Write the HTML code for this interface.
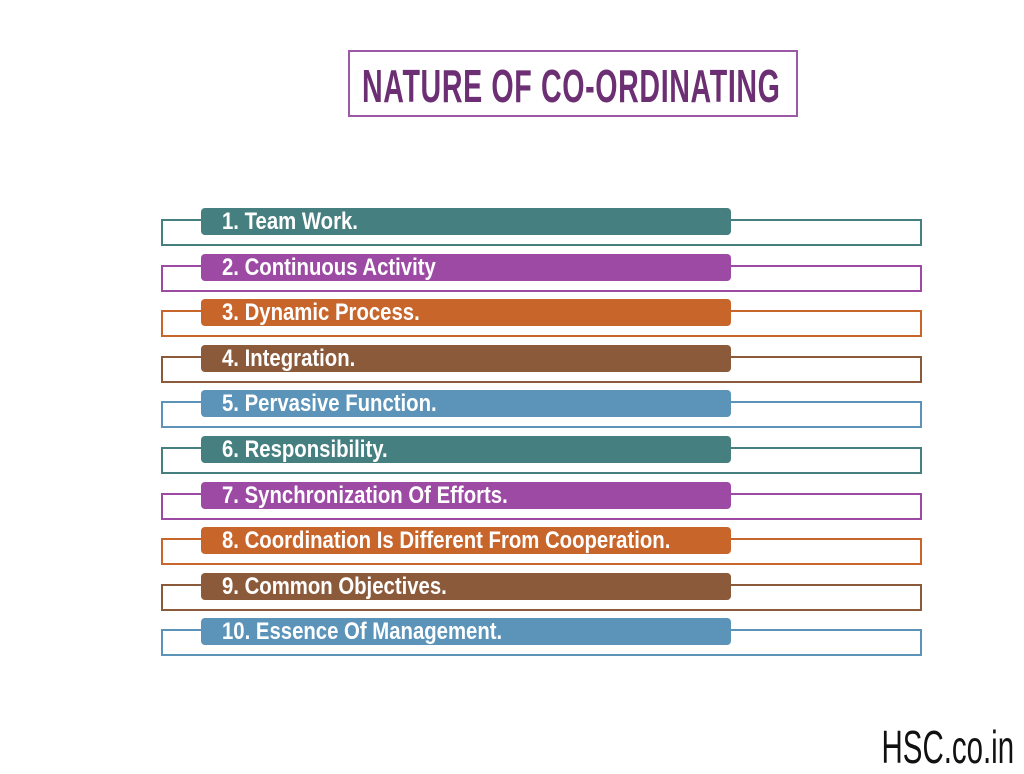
<!DOCTYPE html>
<html><head><style>
body{margin:0;width:1024px;height:768px;background:#fff;position:relative;overflow:hidden;font-family:"Liberation Sans Narrow","Liberation Sans",sans-serif;}
.t{position:absolute;left:348px;top:50px;width:446px;height:63px;border:2px solid #9c5aa6;}
.t span{position:absolute;left:12px;top:7px;font-size:46px;font-weight:bold;color:#6d2f73;white-space:nowrap;transform:scaleX(0.622);transform-origin:left top;letter-spacing:1px;}
.bar{position:absolute;left:201px;width:530px;height:27px;border-radius:4px;color:#fff;font-weight:bold;font-size:24px;line-height:27px;}
.bar span{display:inline-block;margin-left:21px;transform:scaleX(0.847);transform-origin:left center;white-space:nowrap;}
.hl{position:absolute;height:2px;}
.f{position:absolute;right:10px;top:720px;font-size:46px;color:#111;transform:scaleX(0.64);transform-origin:right top;}
</style></head><body>
<div class="t"><span>NATURE OF CO-ORDINATING</span></div>
<div id="rows"></div>
<script>
var items=["1. Team Work.","2. Continuous Activity","3. Dynamic Process.","4. Integration.","5. Pervasive Function.","6. Responsibility.","7. Synchronization Of Efforts.","8. Coordination Is Different From Cooperation.","9. Common Objectives.","10. Essence Of Management."];
var cols=["#467f80","#9c4aa4","#c8652b","#8b5a3a","#5b93b9"];
var h="";
for(var i=0;i<10;i++){var y=208+i*45.6,c=cols[i%5];
h+='<div class="hl" style="left:161px;width:41px;top:'+(y+11)+'px;background:'+c+'"></div>';
h+='<div class="hl" style="left:730px;width:192px;top:'+(y+11)+'px;background:'+c+'"></div>';
h+='<div class="hl" style="left:161px;width:2px;height:27px;top:'+(y+11)+'px;background:'+c+'"></div>';
h+='<div class="hl" style="left:920px;width:2px;height:27px;top:'+(y+11)+'px;background:'+c+'"></div>';
h+='<div class="hl" style="left:161px;width:761px;top:'+(y+36)+'px;background:'+c+'"></div>';
h+='<div class="bar" style="top:'+y+'px;background:'+c+'"><span>'+items[i]+'</span></div>';}
document.getElementById("rows").innerHTML=h;
</script>
<div class="f">HSC.co.in</div>
</body></html>
